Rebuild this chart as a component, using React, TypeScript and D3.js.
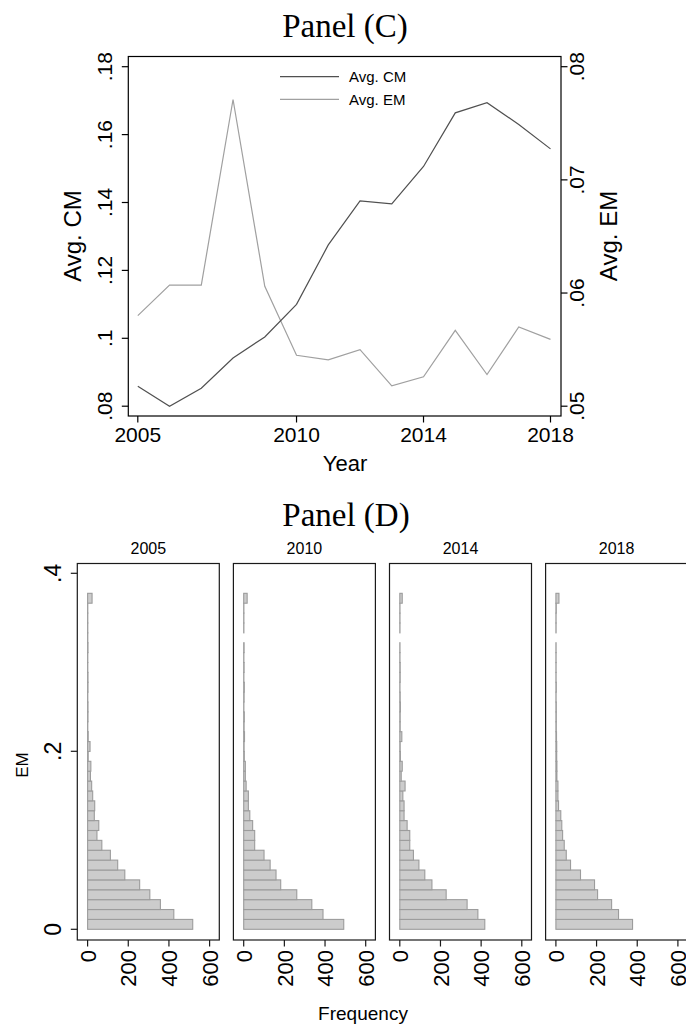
import React from 'react';
import * as d3 from 'd3';

// Panel (C): yearly averages
const years = [2005, 2006, 2007, 2008, 2009, 2010, 2011, 2012, 2013, 2014, 2015, 2016, 2017, 2018];
const avgCM = [0.0859, 0.0800, 0.0853, 0.0942, 0.1004, 0.1100, 0.1275, 0.1405, 0.1396, 0.1506, 0.1664, 0.1694, 0.1630, 0.1558];
const avgEM = [0.0580, 0.0607, 0.0607, 0.0771, 0.0606, 0.0545, 0.0541, 0.0550, 0.0518, 0.0526, 0.0567, 0.0528, 0.0570, 0.0559];
const yearTicks = [2005, 2010, 2014, 2018];
const cmTicks = [0.08, 0.1, 0.12, 0.14, 0.16, 0.18];
const emTicks = [0.05, 0.06, 0.07, 0.08];

// Panel (D): EM histograms by year (34 bins of equal width, from 0)
const histYears = ['2005', '2010', '2014', '2018'];
const binWidth = 0.3775 / 34;
const freq2005 = [517, 424, 358, 306, 256, 183, 148, 112, 70, 46, 55, 33, 35, 25, 20, 14, 16, 3, 12, 3, 1, 2, 2, 1, 2, 2, 1, 1, 2, 1, 1, 1, 1, 22];
const freq2010 = [492, 390, 335, 261, 182, 159, 130, 100, 54, 54, 44, 30, 23, 23, 12, 8, 8, 3, 2, 4, 2, 3, 1, 2, 3, 1, 2, 1, 2, 0, 1, 1, 1, 17];
const freq2014 = [418, 384, 331, 228, 158, 123, 94, 67, 49, 49, 36, 21, 21, 15, 26, 7, 12, 3, 2, 10, 2, 2, 3, 2, 1, 2, 2, 1, 1, 0, 1, 1, 1, 12];
const freq2018 = [377, 308, 274, 205, 190, 121, 72, 51, 41, 33, 29, 24, 13, 10, 10, 5, 5, 4, 4, 3, 2, 2, 2, 1, 2, 1, 1, 1, 1, 0, 1, 1, 2, 15];
const histFreqs = [freq2005, freq2010, freq2014, freq2018];
const emHistTicks = [0, 0.2, 0.4];
const freqTicks = [0, 200, 400, 600];

const SANS = '"Liberation Sans", Arial, sans-serif';
const SERIF = '"Liberation Serif", "Times New Roman", serif';

const fmtDec = (v: number) => {
  const s = d3.format('.2~f')(v);
  return s.startsWith('0.') ? s.slice(1) : s;
};

function PanelC() {
  const frame = { left: 128.3, right: 561, top: 56.5, bottom: 416 };
  const x = d3.scaleLinear().domain([2005, 2018]).range([137.8, 550.5]);
  const yL = d3.scaleLinear().domain([0.08, 0.18]).range([406.2, 66.7]);
  const yR = d3.scaleLinear().domain([0.05, 0.08]).range([406.2, 66.7]);
  const lineCM = d3.line<number>().x((_, i) => x(years[i])).y((d) => yL(d));
  const lineEM = d3.line<number>().x((_, i) => x(years[i])).y((d) => yR(d));

  return (
    <g>
      <text x={345} y={37} textAnchor="middle" fontFamily={SERIF} fontSize={33}>Panel (C)</text>
      <rect x={frame.left} y={frame.top} width={frame.right - frame.left} height={frame.bottom - frame.top}
        fill="none" stroke="#000" strokeWidth={1.2} />
      <path d={lineEM(avgEM) || ''} fill="none" stroke="#a0a0a0" strokeWidth={1.2} />
      <path d={lineCM(avgCM) || ''} fill="none" stroke="#505050" strokeWidth={1.2} />

      {/* legend */}
      <line x1={280} x2={339} y1={76.7} y2={76.7} stroke="#505050" strokeWidth={1.2} />
      <text x={349} y={82} fontFamily={SANS} fontSize={15}>Avg. CM</text>
      <line x1={280} x2={339} y1={99.3} y2={99.3} stroke="#a0a0a0" strokeWidth={1.2} />
      <text x={349} y={104.6} fontFamily={SANS} fontSize={15}>Avg. EM</text>

      {/* left axis */}
      {cmTicks.map((t) => (
        <g key={'l' + t}>
          <line x1={frame.left - 6.5} x2={frame.left} y1={yL(t)} y2={yL(t)} stroke="#000" strokeWidth={1.2} />
          <text transform={`translate(111.5,${yL(t)}) rotate(-90)`} textAnchor="middle"
            fontFamily={SANS} fontSize={21}>{fmtDec(t)}</text>
        </g>
      ))}
      {/* right axis */}
      {emTicks.map((t) => (
        <g key={'r' + t}>
          <line x1={frame.right} x2={frame.right + 6.5} y1={yR(t)} y2={yR(t)} stroke="#000" strokeWidth={1.2} />
          <text transform={`translate(584,${yR(t)}) rotate(-90)`} textAnchor="middle"
            fontFamily={SANS} fontSize={21}>{fmtDec(t)}</text>
        </g>
      ))}
      {/* bottom axis */}
      {yearTicks.map((t) => (
        <g key={'b' + t}>
          <line x1={x(t)} x2={x(t)} y1={frame.bottom} y2={frame.bottom + 6.5} stroke="#000" strokeWidth={1.2} />
          <text x={x(t)} y={441.7} textAnchor="middle" fontFamily={SANS} fontSize={21}>{t}</text>
        </g>
      ))}
      <text x={345} y={471} textAnchor="middle" fontFamily={SANS} fontSize={22}>Year</text>
      <text transform="translate(81,236) rotate(-90)" textAnchor="middle" fontFamily={SANS} fontSize={24}>Avg. CM</text>
      <text transform="translate(617,236) rotate(-90)" textAnchor="middle" fontFamily={SANS} fontSize={24}>Avg. EM</text>
    </g>
  );
}

function PanelD() {
  const top = 563.5;
  const bottom = 940;
  const panelW = 142;
  const step = 156.1;
  const firstLeft = 77.3;
  const y = d3.scaleLinear().domain([0, 0.4]).range([929.3, 573.3]);

  return (
    <g>
      <text x={346} y={526} textAnchor="middle" fontFamily={SERIF} fontSize={33}>Panel (D)</text>
      {histYears.map((yr, p) => {
        const left = firstLeft + p * step;
        const x = d3.scaleLinear().domain([0, 600]).range([left + 10.3, left + 132.3]);
        const freqs = histFreqs[p];
        return (
          <g key={yr}>
            <text x={left + panelW / 2} y={554} textAnchor="middle" fontFamily={SANS} fontSize={16}>{yr}</text>
            {freqs.map((f, k) => {
              const y0 = y(k * binWidth);
              const y1 = y((k + 1) * binWidth);
              return (
                <rect key={k} x={x(0)} y={y1} width={Math.max(0, x(f) - x(0))} height={y0 - y1}
                  fill="#cccccc" stroke="#9c9c9c" strokeWidth={1.1} />
              );
            })}
            <rect x={left} y={top} width={panelW} height={bottom - top} fill="none" stroke="#1a1a1a" strokeWidth={1.2} />
            {freqTicks.map((t) => (
              <g key={t}>
                <line x1={x(t)} x2={x(t)} y1={bottom} y2={bottom + 6.5} stroke="#1a1a1a" strokeWidth={1.2} />
                <text transform={`translate(${x(t) + 8.2},950) rotate(-90)`} textAnchor="end"
                  fontFamily={SANS} fontSize={22}>{t}</text>
              </g>
            ))}
          </g>
        );
      })}
      {emHistTicks.map((t) => (
        <g key={'e' + t}>
          <line x1={firstLeft - 6.5} x2={firstLeft} y1={y(t)} y2={y(t)} stroke="#1a1a1a" strokeWidth={1.2} />
          <text transform={`translate(61,${y(t)}) rotate(-90)`} textAnchor="middle"
            fontFamily={SANS} fontSize={23}>{t === 0 ? '0' : d3.format('.1f')(t).replace(/^0/, '')}</text>
        </g>
      ))}
      <text transform="translate(28,765) rotate(-90)" textAnchor="middle" fontFamily={SANS} fontSize={17}>EM</text>
      <text x={363} y={1020} textAnchor="middle" fontFamily={SANS} fontSize={19}>Frequency</text>
    </g>
  );
}

export default function App() {
  return (
    <div style={{ position: 'absolute', left: 0, top: 0 }}>
      <svg width={686} height={1025} style={{ display: 'block', background: '#fff' }}>
        <rect width={686} height={1025} fill="#fff" />
        <PanelC />
        <PanelD />
      </svg>
    </div>
  );
}
